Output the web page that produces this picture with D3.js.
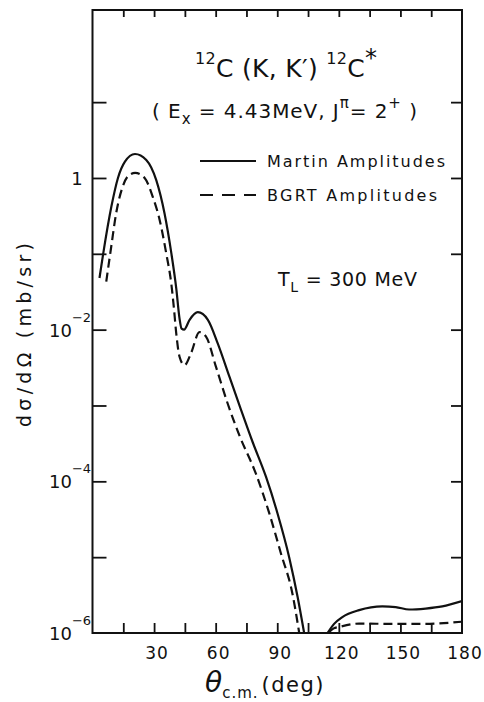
<!DOCTYPE html>
<html>
<head>
<meta charset="utf-8">
<script src="https://cdn.jsdelivr.net/npm/d3@7"></script>
<style>
  html, body { margin: 0; padding: 0; background: #fff; }
  text { font-family: "DejaVu Sans", sans-serif; fill: #111; }
</style>
</head>
<body>
<svg id="chart" width="484" height="702"></svg>
<script>
// ---- data ----
// Martin amplitudes (solid)
const martinTheta1 = [3.4, 5.2, 9.2, 12.4, 15.8, 20.7, 26.2, 31.1, 35.1, 38.4, 40.8, 42.4, 43.4, 44.6, 47.3, 51.3, 56.2, 61.0, 66.7, 72.4, 78.0, 84.5, 90.1, 95.8, 99.9, 103.1];
const martinXS1    = [4.8e-2, 1.0e-1, 4.2e-1, 1.0, 1.64, 2.07, 1.73, 0.93, 0.34, 0.102, 3.5e-2, 1.4e-2, 1.03e-2, 1.0e-2, 1.35e-2, 1.7e-2, 1.35e-2, 6.6e-3, 2.4e-3, 8.7e-4, 3.3e-4, 1.15e-4, 3.8e-5, 1.0e-5, 3.0e-6, 1.0e-6];
const martinTheta2 = [114.5, 117.7, 121.7, 129.9, 141.2, 147.7, 154.2, 162.3, 170.4, 180];
const martinXS2    = [1.0e-6, 1.32e-6, 1.62e-6, 2.0e-6, 2.24e-6, 2.2e-6, 2.04e-6, 2.1e-6, 2.24e-6, 2.63e-6];
// BGRT amplitudes (dashed)
const bgrtTheta1 = [6.7, 9.1, 11.5, 14.8, 17.2, 20.8, 25.4, 29.4, 32.7, 35.9, 38.4, 39.6, 40.8, 42.4, 44.8, 48.0, 52.1, 55.3, 60.2, 65.8, 71.6, 79.6, 86.1, 91.8, 97.4, 100.7];
const bgrtXS1    = [4.3e-2, 0.123, 0.34, 0.78, 1.05, 1.17, 1.0, 0.56, 0.28, 0.102, 4.0e-2, 2.0e-2, 8.9e-3, 4.4e-3, 3.4e-3, 4.9e-3, 9.3e-3, 8.1e-3, 3.2e-3, 1.07e-3, 4.0e-4, 1.26e-4, 3.8e-5, 1.12e-5, 3.3e-6, 1.0e-6];
const bgrtTheta2 = [115.3, 117.5, 120.1, 129.9, 146, 162.3, 180];
const bgrtXS2    = [1.03e-6, 1.15e-6, 1.2e-6, 1.33e-6, 1.32e-6, 1.32e-6, 1.41e-6];

const xTickLabels = [30, 60, 90, 120, 150, 180];
const xMinorTicks = [15, 30, 45, 60, 75, 90, 105, 120, 135, 150, 165];
const yTickValues = [1e-5, 1e-4, 1e-3, 1e-2, 1e-1, 1, 10];
const yLabelExps  = [-6, -4, -2];

// ---- layout ----
const svg = d3.select("#chart");
const L = 92.5, R = 462, T = 10, B = 633;
const x = d3.scaleLinear().domain([0, 180]).range([L, R]);
const y = d3.scaleLog().domain([1e-6, Math.pow(10, 2.215)]).range([B, T]);

svg.append("clipPath").attr("id", "clip")
  .append("rect").attr("x", L).attr("y", T).attr("width", R - L).attr("height", B - T);

// ticks (inward)
function styleAxis(g) {
  g.select(".domain").remove();
  g.selectAll(".tick line").attr("stroke", "#111").attr("stroke-width", 1.8);
  g.selectAll(".tick text").remove();
}
svg.append("g").attr("transform", `translate(0,${B})`)
  .call(d3.axisBottom(x).tickValues(xMinorTicks).tickSize(-10).tickFormat(""))
  .call(styleAxis);
svg.append("g").attr("transform", `translate(0,${T})`)
  .call(d3.axisTop(x).tickValues(xMinorTicks).tickSize(-7).tickFormat(""))
  .call(styleAxis);
svg.append("g").attr("transform", `translate(${L},0)`)
  .call(d3.axisLeft(y).tickValues(yTickValues).tickSize(-14).tickFormat(""))
  .call(styleAxis);
svg.append("g").attr("transform", `translate(${R},0)`)
  .call(d3.axisRight(y).tickValues(yTickValues).tickSize(-11).tickFormat(""))
  .call(styleAxis);

// frame
svg.append("rect").attr("x", L).attr("y", T).attr("width", R - L).attr("height", B - T)
  .attr("fill", "none").attr("stroke", "#111").attr("stroke-width", 2);

// x tick labels
svg.append("g").selectAll("text").data(xTickLabels).join("text")
  .attr("x", d => x(d) + 3).attr("y", 659)
  .attr("text-anchor", "middle").attr("font-size", 17)
  .attr("letter-spacing", 1)
  .text(d => d);

// y tick labels
svg.append("text").attr("x", 77).attr("y", y(1) + 7).attr("text-anchor", "middle")
  .attr("font-size", 18).text("1");
const yl = svg.append("g").selectAll("text").data(yLabelExps).join("text")
  .attr("x", 49).attr("y", d => y(Math.pow(10, d)) + 7).attr("font-size", 18);
yl.append("tspan").text("10");
yl.append("tspan").attr("font-size", 13).attr("dy", -15)
  .text(d => "\u2212" + Math.abs(d));

// curves
const line = d3.line().x(d => x(d[0])).y(d => y(d[1])).curve(d3.curveMonotoneX);
const plot = svg.append("g").attr("clip-path", "url(#clip)");
const series = [
  {t: martinTheta1, v: martinXS1, dash: null},
  {t: martinTheta2, v: martinXS2, dash: null},
  {t: bgrtTheta1, v: bgrtXS1, dash: "9,5"},
  {t: bgrtTheta2, v: bgrtXS2, dash: "9,5"}
];
series.forEach(s => {
  plot.append("path").datum(d3.zip(s.t, s.v))
    .attr("d", line).attr("fill", "none").attr("stroke", "#111")
    .attr("stroke-width", 2.2).attr("stroke-dasharray", s.dash);
});

// title
const title = svg.append("text").attr("x", 195).attr("y", 77).attr("font-size", 25)
  .attr("textLength", 182).attr("lengthAdjust", "spacing");
title.append("tspan").attr("font-size", 16).attr("dy", -13).text("12");
title.append("tspan").attr("dy", 13).text("C");
title.append("tspan").text(" (K, K\u2032) ");
title.append("tspan").attr("font-size", 16).attr("dy", -13).text("12");
title.append("tspan").attr("dy", 13).text("C");
title.append("tspan").attr("font-size", 24).attr("dy", -11).text("*");

// subtitle
const sub = svg.append("text").attr("x", 152).attr("y", 118).attr("font-size", 20)
  .attr("textLength", 265).attr("lengthAdjust", "spacing");
sub.append("tspan").text("( E");
sub.append("tspan").attr("font-size", 15).attr("dy", 6).text("x");
sub.append("tspan").attr("dy", -6).text(" = 4.43MeV, J");
sub.append("tspan").attr("font-size", 15).attr("dy", -10).text("\u03c0");
sub.append("tspan").attr("dy", 10).text("= 2");
sub.append("tspan").attr("font-size", 15).attr("dy", -10).text("+");
sub.append("tspan").attr("dy", 10).text(" )");

// legend
const legend = [
  {label: "Martin  Amplitudes", dash: null, y: 161, len: 178},
  {label: "BGRT  Amplitudes", dash: "13,9", y: 195, len: 170}
];
legend.forEach(d => {
  svg.append("line").attr("x1", 200).attr("x2", 256).attr("y1", d.y).attr("y2", d.y)
    .attr("stroke", "#111").attr("stroke-width", 2).attr("stroke-dasharray", d.dash);
  svg.append("text").attr("x", 267).attr("y", d.y + 6).attr("font-size", 16)
    .attr("textLength", d.len).attr("lengthAdjust", "spacing").text(d.label);
});

// T_L
const tl = svg.append("text").attr("x", 278).attr("y", 286).attr("font-size", 19)
  .attr("textLength", 139).attr("lengthAdjust", "spacing");
tl.append("tspan").text("T");
tl.append("tspan").attr("font-size", 14).attr("dy", 6).text("L");
tl.append("tspan").attr("dy", -6).text(" = 300 MeV");

// y axis label
svg.append("text").attr("transform", "translate(31,335) rotate(-90)")
  .attr("text-anchor", "middle").attr("font-size", 19)
  .attr("textLength", 184).attr("lengthAdjust", "spacing")
  .text("d\u03c3/d\u03a9  (mb/sr)");

// x axis label
const xl = svg.append("text").attr("x", 205).attr("y", 692).attr("font-size", 21);
xl.append("tspan").attr("font-size", 28).attr("font-style", "italic").text("\u03b8");
xl.append("tspan").attr("font-size", 15).attr("dy", 6).attr("letter-spacing", 1).text("c.m.");
xl.append("tspan").attr("dy", -6).attr("dx", 3).attr("letter-spacing", 1.5).text("(deg)");
</script>
</body>
</html>
